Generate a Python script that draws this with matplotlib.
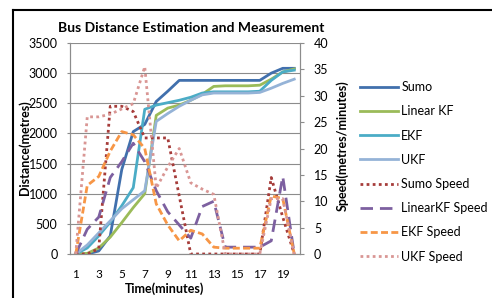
import numpy as np
import matplotlib.pyplot as plt
from matplotlib.lines import Line2D

plt.rcParams['font.family'] = ['Lato', 'DejaVu Sans']

# time in minutes (category axis)
minutes = list(range(1, 21))

# distance series (metres, left axis)
sumo = [0, 0, 50, 300, 1400, 2030, 2150, 2530, 2700, 2880,
        2880, 2880, 2880, 2880, 2880, 2880, 2880, 3000, 3080, 3080]
linear_kf = [0, 10, 100, 280, 520, 770, 1000, 2300, 2420, 2470,
             2550, 2650, 2780, 2790, 2790, 2790, 2800, 2900, 3020, 3070]
ekf = [0, 100, 300, 530, 800, 1100, 2400, 2470, 2510, 2550,
       2600, 2670, 2690, 2690, 2690, 2690, 2700, 2880, 3020, 3050]
ukf = [0, 150, 350, 550, 750, 900, 1050, 2200, 2330, 2450,
       2550, 2640, 2670, 2670, 2670, 2670, 2680, 2750, 2830, 2900]

# speed series (metres/minute, right axis)
sumo_speed = [0, 0, 1, 28, 28, 27, 22, 22, 22, 11,
              0, 0, 0, 0, 0, 0, 0, 14.5, 7, 0]
linearkf_speed = [0, 4.7, 7, 14.5, 17.5, 21, 17.5, 12, 8, 5.5,
                  3, 9, 10, 1.3, 1.3, 1.3, 1.3, 2.5, 14.7, 0]
ekf_speed = [0, 13, 14.7, 19.5, 23.2, 22.6, 20, 9.5, 5.5, 2.5,
             4.5, 3.8, 1.3, 1.1, 1.1, 1.1, 1.1, 11, 10.5, 0]
ukf_speed = [0, 26, 26, 26.5, 27.5, 28.5, 35.5, 12.5, 16.5, 20,
             13.5, 12.3, 11.3, 0, 0, 0, 0, 10.5, 10.5, 0]

W, H = 492, 298
fig = plt.figure(figsize=(W / 100, H / 100), dpi=100)
ax = fig.add_axes([70 / W, 1 - 254 / H, 230 / W, 211 / H])
ax2 = ax.twinx()

lw = 2.0
ax.plot(minutes, sumo, color='#4170AD', lw=lw, label='Sumo')
ax.plot(minutes, linear_kf, color='#9BBB59', lw=lw, label='Linear KF')
ax.plot(minutes, ekf, color='#4BACC6', lw=lw, label='EKF')
ax.plot(minutes, ukf, color='#95B3D7', lw=lw, label='UKF')

ax2.plot(minutes, sumo_speed, color='#A63C3A', lw=lw, ls=(0, (1, 1.2)), label='Sumo Speed')
ax2.plot(minutes, linearkf_speed, color='#7D60A0', lw=lw, ls=(0, (4.5, 2.5)), label='LinearKF Speed')
ax2.plot(minutes, ekf_speed, color='#F79646', lw=lw, ls=(0, (2.5, 1.2)), label='EKF Speed')
ax2.plot(minutes, ukf_speed, color='#D99694', lw=lw, ls=(0, (1, 1.2)), label='UKF Speed')

ax.set_xlim(0.5, 20.5)
ax.set_ylim(0, 3500)
ax.set_yticks(np.arange(0, 3501, 500))
ax.set_xticks(minutes[::2])
ax2.set_ylim(0, 40)
ax2.set_yticks(np.arange(0, 41, 5))

ax.grid(axis='y', color='#8c8c8c', lw=0.8)
ax.set_axisbelow(True)
for a in (ax, ax2):
    for s in a.spines.values():
        s.set_color('#8c8c8c')
        s.set_linewidth(0.8)
    a.spines['top'].set_visible(False)

ax.tick_params(axis='y', labelsize=9, length=2, pad=7, color='#8c8c8c')
ax.tick_params(axis='x', labelsize=8.5, length=0, pad=11)
ax2.tick_params(axis='y', labelsize=9, length=3, pad=7, color='#8c8c8c')

fig.text(191 / W, 1 - 28 / H, 'Bus Distance Estimation and Measurement',
         ha='center', va='center', fontsize=10, fontweight='bold')
fig.text(165 / W, 1 - 289 / H, 'Time(minutes)', ha='center', va='center',
         fontsize=9, fontweight='bold')
fig.text(25 / W, 1 - 148 / H, 'Distance(metres)', ha='center', va='center',
         rotation=90, fontsize=9, fontweight='bold')
fig.text(342 / W, 1 - 146 / H, 'Speed(metres/minutes)', ha='center', va='center',
         rotation=90, fontsize=9, fontweight='bold')

h1, l1 = ax.get_legend_handles_labels()
h2, l2 = ax2.get_legend_handles_labels()
fig.legend(h1 + h2, l1 + l2, loc='upper left', bbox_to_anchor=(360 / W, 1 - 81 / H),
           frameon=False, fontsize=9, handlelength=3.0, handletextpad=0.3,
           labelspacing=0.98, borderpad=0, borderaxespad=0)

# outer chart frame (only top and left edges are inside the picture)
fig.add_artist(Line2D([13 / W, 1], [1 - 10 / H, 1 - 10 / H], color='black', lw=1.5))
fig.add_artist(Line2D([13 / W, 13 / W], [0, 1 - 10 / H], color='black', lw=1.5))

fig.savefig('out.png', dpi=100)
